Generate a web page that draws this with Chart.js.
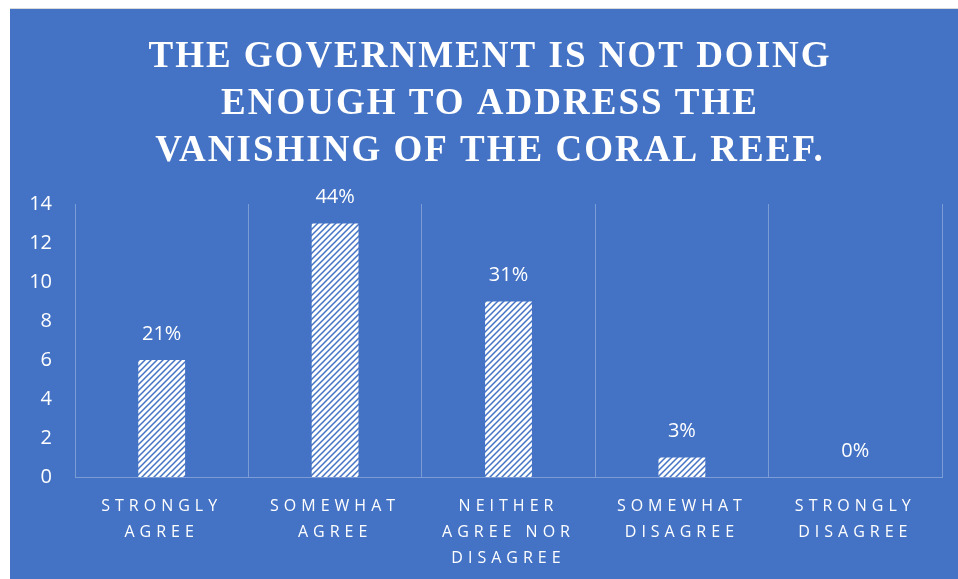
<!DOCTYPE html>
<html lang="en">
<head>
  <meta charset="UTF-8">
  <title>Coral Reef Survey</title>
  <script src="https://cdn.jsdelivr.net/npm/chart.js"></script>
  <style>
    html, body { margin: 0; padding: 0; background: #fff; }
    #panel {
      position: absolute;
      left: 10px; top: 8px;
      width: 948px; height: 570px;
      border-top: 1px solid #d9d9d9;
      background: #4472c4;
    }
  </style>
</head>
<body>
  <div id="panel"><canvas id="surveyChart"></canvas></div>

  <script>
    const categories = [
      ['STRONGLY', 'AGREE'],
      ['SOMEWHAT', 'AGREE'],
      ['NEITHER', 'AGREE NOR', 'DISAGREE'],
      ['SOMEWHAT', 'DISAGREE'],
      ['STRONGLY', 'DISAGREE']
    ];
    const responses = [6, 13, 9, 1, 0];
    const shareLabels = ['21%', '44%', '31%', '3%', '0%'];
    const yTicks = [0, 2, 4, 6, 8, 10, 12, 14];
    const titleLines = [
      'THE GOVERNMENT IS NOT DOING',
      'ENOUGH TO ADDRESS THE',
      'VANISHING OF THE CORAL REEF.'
    ];

    const BLUE = '#4472c4';
    const GRID = 'rgba(255, 255, 255, 0.3)';

    // white tile with a thin upward diagonal stripe
    function hatch() {
      const c = document.createElement('canvas');
      c.width = 6; c.height = 6;
      const g = c.getContext('2d');
      g.fillStyle = '#fff';
      g.fillRect(0, 0, 6, 6);
      g.strokeStyle = BLUE;
      g.lineWidth = 1.5;
      g.beginPath();
      g.moveTo(-1, 7); g.lineTo(7, -1);
      g.moveTo(-1, 1); g.lineTo(1, -1);
      g.moveTo(5, 7); g.lineTo(7, 5);
      g.stroke();
      return g.createPattern(c, 'repeat');
    }

    // run a draw method with letter spacing (and an optional x shift)
    function spaced(obj, method, px, dx) {
      if (!obj || obj['_sp_' + method]) return;
      const orig = obj[method];
      obj[method] = function (...args) {
        const ctx = this.ctx;
        ctx.save();
        ctx.letterSpacing = px;
        ctx.translate(dx || 0, 0);
        orig.apply(this, args);
        ctx.restore();
      };
      obj['_sp_' + method] = true;
    }

    const letterSpacing = {
      id: 'letterSpacing',
      beforeDraw(chart) {
        spaced(chart.titleBlock, 'draw', '2px', 14);
        spaced(chart.scales.x, 'drawLabels', '5px');
      }
    };

    const shareText = {
      id: 'shareText',
      afterDatasetsDraw(chart) {
        const ctx = chart.ctx;
        ctx.save();
        ctx.font = '20px "Open Sans"';
        ctx.fillStyle = '#fff';
        ctx.textAlign = 'center';
        ctx.textBaseline = 'middle';
        chart.getDatasetMeta(0).data.forEach((bar, i) => {
          ctx.fillText(shareLabels[i], bar.x, bar.y - 26);
        });
        ctx.restore();
      }
    };

    const ctx = document.getElementById('surveyChart').getContext('2d');
    new Chart(ctx, {
      type: 'bar',
      data: {
        labels: categories,
        datasets: [{
          data: responses,
          backgroundColor: hatch(),
          borderWidth: 0,
          barPercentage: 0.27,
          categoryPercentage: 1
        }]
      },
      options: {
        responsive: true,
        maintainAspectRatio: false,
        animation: false,
        layout: { padding: { top: 0, right: 16, bottom: 0, left: 0 } },
        plugins: {
          legend: { display: false },
          tooltip: { enabled: false },
          title: {
            display: true,
            text: titleLines,
            color: '#fff',
            font: { family: '"Liberation Serif", serif', size: 37, weight: 'bold', lineHeight: 1.27 },
            padding: { top: 25, bottom: 29 }
          }
        },
        scales: {
          x: {
            grid: { color: GRID, lineWidth: 1, drawTicks: false, offset: true },
            border: { color: GRID },
            ticks: {
              color: '#fff',
              font: { family: '"Open Sans"', size: 16, lineHeight: 1.6 },
              padding: 17,
              maxRotation: 0,
              autoSkip: false
            },
            afterFit(scale) { scale.height = 102; }
          },
          y: {
            min: 0,
            max: 14,
            afterBuildTicks(scale) { scale.ticks = yTicks.map(v => ({ value: v })); },
            grid: { display: false, drawTicks: false },
            border: { display: false },
            ticks: {
              color: '#fff',
              font: { family: '"Open Sans"', size: 20 },
              padding: 23
            },
            afterFit(scale) { scale.width = 65; }
          }
        }
      },
      plugins: [letterSpacing, shareText]
    });
  </script>
</body>
</html>
